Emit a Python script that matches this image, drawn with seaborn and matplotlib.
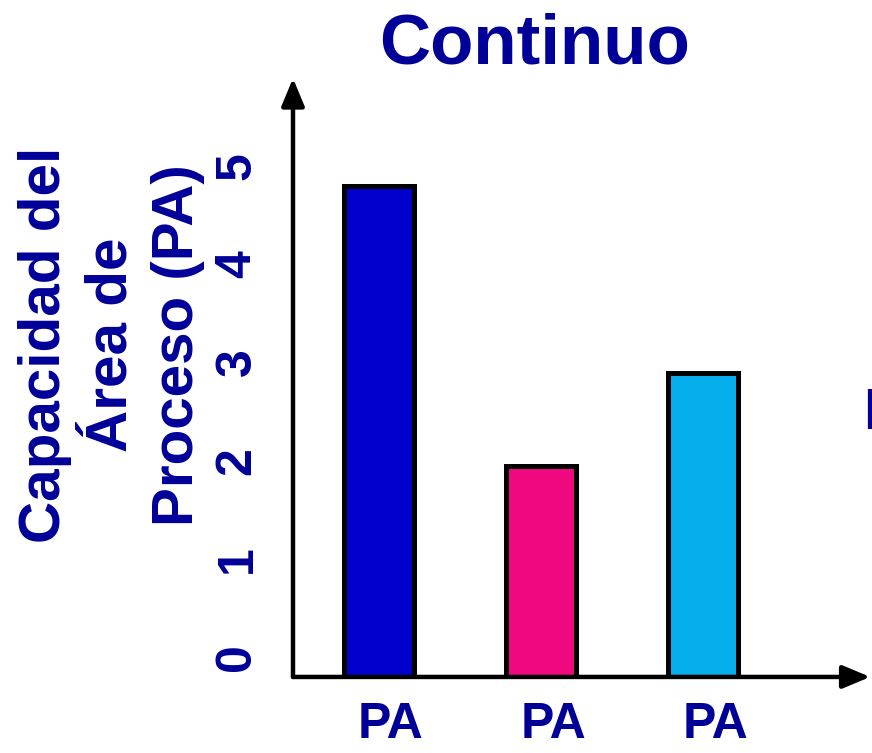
import matplotlib
matplotlib.use('Agg')
import matplotlib.pyplot as plt
import matplotlib.transforms as mtransforms
import seaborn as sns
import pandas as pd

# data
areas = ['PA 1', 'PA 2', 'PA 3']
capacidad = [5.0, 2.15, 3.1]
bar_colors = ['#0000CC', '#F0087F', '#03AEEA']
x_labels = ['PA', 'PA', 'PA']
y_ticks = [0, 1, 2, 3, 4, 5]

text_blue = '#000099'

sns.set_theme(style='white')
plt.rcParams['font.family'] = ['Liberation Sans', 'DejaVu Sans']
plt.rcParams['font.weight'] = 'bold'

df = pd.DataFrame({'area': areas, 'capacidad': capacidad})

fig = plt.figure(figsize=(8.72, 7.53), dpi=100)
ax = fig.add_axes([0.336, 0.101, 0.662, 0.795])

sns.barplot(data=df, x='area', y='capacidad', hue='area', palette=bar_colors,
            saturation=1, width=0.43, edgecolor='black', linewidth=3.6,
            legend=False, ax=ax)

ax.set_xlim(-0.53, 3.03)
ax.set_ylim(0, 6.1)

for s in ax.spines.values():
    s.set_visible(False)

# axes drawn as arrows
arrow = dict(arrowstyle='-|>,head_length=0.6,head_width=0.25', color='black', lw=3.2,
             mutation_scale=28, shrinkA=0, shrinkB=0)
ax.annotate('', xy=(1.0, 0), xytext=(0, 0), xycoords='axes fraction', arrowprops=arrow)
ax.annotate('', xy=(0, 1.0), xytext=(0, 0), xycoords='axes fraction', arrowprops=arrow)

ax.set_xticks(range(len(x_labels)))
ax.set_xticklabels(x_labels, fontsize=36, color=text_blue, fontweight='bold')
ax.tick_params(axis='x', length=0, pad=18)
xshift = mtransforms.ScaledTranslation(12 / 100, 0, fig.dpi_scale_trans)
for lab in ax.get_xticklabels():
    lab.set_transform(lab.get_transform() + xshift)

ax.set_yticks(y_ticks)
ax.set_yticklabels([str(t) for t in y_ticks], fontsize=36, color=text_blue,
                   fontweight='bold', rotation=90, va='center', ha='center')
ax.tick_params(axis='y', length=0, pad=40)
shift = mtransforms.ScaledTranslation(0, 20 / 100, fig.dpi_scale_trans)
for lab in ax.get_yticklabels():
    lab.set_transform(lab.get_transform() + shift)

ax.set_xlabel('')
ax.set_ylabel('')

fig.text(0.613, 0.94, 'Continuo', fontsize=51, color=text_blue, fontweight='bold',
         ha='center', va='center')
fig.text(0.128, 0.542, 'Capacidad del\nÁrea de\nProceso (PA)', fontsize=42,
         color=text_blue, fontweight='bold', rotation=90, ha='center', va='center',
         multialignment='center', linespacing=1.3)
fig.text(0.99, 0.45, 'E', fontsize=42, color=text_blue, fontweight='bold',
         ha='left', va='center')

fig.savefig('out.png', dpi=100)
